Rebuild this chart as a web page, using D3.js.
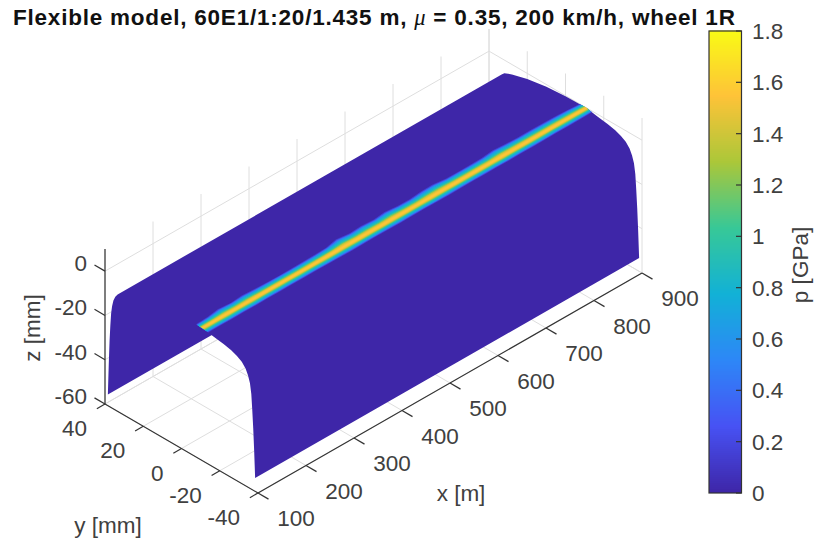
<!DOCTYPE html>
<html lang="en">
<head>
	<meta charset="UTF-8">
	<title>Flexible model contact pressure</title>
	<style>
		html, body { margin: 0; padding: 0; background: #fff; }
		svg { display: block; }
		text { font-family: "Liberation Sans", Arial, sans-serif; fill: #404040; }
	</style>
</head>
<body>
	<svg width="819" height="543"></svg>
	<script src="https://cdnjs.cloudflare.com/ajax/libs/d3/7.8.5/d3.min.js"></script>
	<script type="text/javascript">
		// tick values of the three axes and the colorbar
		var xTicks = [100, 200, 300, 400, 500, 600, 700, 800, 900];
		var yTicks = [40, 20, 0, -20, -40];
		var zTicks = [-60, -40, -20, 0];
		var pTicks = [0, 0.2, 0.4, 0.6, 0.8, 1, 1.2, 1.4, 1.6, 1.8];

		// rail head profile, y [mm] and z [mm]
		var profileY = [38.5, 38, 37.6, 37.2, 36.8, 36.3, 35.6, 34.6, 33.4, 32, 30, 28, 20, 10, 0, -11, -16.5, -22, -26, -29, -31.5, -33.5, -34.8, -35.8, -36.5, -37, -37.5, -38, -38.5];
		var profileZ = [-55, -40, -30, -23, -17.5, -14, -11, -8.8, -7.2, -6, -5.2, -4.5, -2.5, -1, -0.3, 0, -1, -1.7, -2.6, -3.6, -5, -7, -9.5, -12.5, -17, -24, -32, -42, -54];
		var railStart = 100;
		var railEnd = 900;

		// contact band along the rail: stations [m], edges relative to the centre line [mm]
		var contactY = -11;
		var stationX = [100, 125, 150, 175, 200, 225, 250, 275, 300, 325, 350, 375, 400, 425, 450, 475, 500, 525, 550, 575, 600, 625, 650, 675, 700, 725, 750, 775, 800, 825, 850, 875, 900];
		var upperEdge = [3.4, 3.7, 4.6, 4.1, 4.6, 4.2, 4.0, 3.9, 3.9, 4.0, 4.1, 4.4, 5.6, 4.8, 5.2, 4.7, 5.4, 4.7, 4.6, 5.2, 5.4, 4.6, 4.5, 4.5, 4.6, 5.3, 4.8, 4.6, 4.6, 4.5, 4.4, 4.1, 3.6];
		var lowerEdge = [3.0, 3.0, 3.1, 3.0, 3.1, 3.0, 3.0, 3.0, 3.0, 3.0, 3.1, 3.1, 3.2, 3.1, 3.1, 3.1, 3.2, 3.1, 3.1, 3.2, 3.2, 3.1, 3.1, 3.1, 3.1, 3.2, 3.1, 3.1, 3.1, 3.0, 3.0, 3.0, 2.9];

		// pressure [GPa] across the band, from its edge to its centre
		var bandFraction = [1, 0.9, 0.8, 0.7, 0.6, 0.5, 0.4, 0.3, 0.2, 0.1];
		var bandPressure = [0.15, 0.4, 0.6, 0.75, 0.85, 1.0, 1.2, 1.4, 1.5, 1.55];

		// parula colormap stops
		var colorStops = ["#3e26a8", "#4752f4", "#2d87f7", "#12b1d6", "#37c897", "#abc739", "#fec338", "#f9fb15"];

		var svg = d3.select("svg");

		// oblique projection of the 3D box, edges
		var originX = 105, originY = 404;
		var xToPx = d3.scaleLinear().domain([100, 900]).range([0, 384]);
		var xToPy = d3.scaleLinear().domain([100, 900]).range([0, -220]);
		var yToPx = d3.scaleLinear().domain([40, -40]).range([0, 153]);
		var yToPy = d3.scaleLinear().domain([40, -40]).range([0, 89]);
		var zToPy = d3.scaleLinear().domain([-60, 10]).range([0, -155]);

		function project(x, y, z) {
			return [originX + xToPx(x) + yToPx(y), originY + xToPy(x) + yToPy(y) + zToPy(z)];
		}

		var color = d3.scaleLinear()
			.domain(colorStops.map(function(d, i) { return 1.8 * i / (colorStops.length - 1); }))
			.range(colorStops);

		var line = d3.line();

		function drawSegments(parent, segments, stroke, width) {
			parent.selectAll(null).data(segments).enter().append("path")
				.attr("d", function(d) { return line(d); })
				.attr("fill", "none")
				.attr("stroke", stroke)
				.attr("stroke-width", width);
		}

		// GRID //
		var grid = svg.append("g");
		var gridLines = [];
		xTicks.forEach(function(x) {
			gridLines.push([project(x, 40, -60), project(x, -40, -60)]);
			gridLines.push([project(x, 40, -60), project(x, 40, 10)]);
		});
		yTicks.forEach(function(y) {
			gridLines.push([project(100, y, -60), project(900, y, -60)]);
			gridLines.push([project(900, y, -60), project(900, y, 10)]);
		});
		zTicks.forEach(function(z) {
			gridLines.push([project(100, 40, z), project(900, 40, z)]);
			gridLines.push([project(900, 40, z), project(900, -40, z)]);
		});
		drawSegments(grid, gridLines, "#dedede", 1);

		// RAIL SURFACE //
		// all the strips go into one path, so no seams show between them.
		// the sheet folds over itself on screen, so every strip gets the same winding
		var quads = d3.pairs(d3.zip(profileY, profileZ));
		svg.append("path")
			.attr("d", quads.map(function(d) {
				var corners = [
					project(railStart, d[0][0], d[0][1]),
					project(railEnd, d[0][0], d[0][1]),
					project(railEnd, d[1][0], d[1][1]),
					project(railStart, d[1][0], d[1][1])
				];
				if (d3.polygonArea(corners) < 0) corners.reverse();
				return line(corners) + "Z";
			}).join(""))
			.attr("fill", color(0));

		// the height of the surface at a given y, to lay the band on it
		var surfaceZ = d3.scaleLinear().domain(profileY.slice().reverse()).range(profileZ.slice().reverse());

		// CONTACT BAND //
		var defs = svg.append("defs");
		defs.append("filter").attr("id", "soft")
			.attr("x", "-5%").attr("y", "-5%").attr("width", "110%").attr("height", "110%")
			.append("feGaussianBlur").attr("stdDeviation", 0.5);

		var band = svg.append("g").attr("filter", "url(#soft)");
		band.selectAll("path").data(bandFraction).enter().append("path")
			.attr("d", function(f) {
				var top = stationX.map(function(x, i) {
					var y = contactY + upperEdge[i] * f;
					return project(x, y, surfaceZ(y));
				});
				var bottom = stationX.map(function(x, i) {
					var y = contactY - lowerEdge[i] * f;
					return project(x, y, surfaceZ(y));
				}).reverse();
				return line(top.concat(bottom)) + "Z";
			})
			.attr("fill", function(f, i) { return color(bandPressure[i]); });

		// AXES //
		var axes = svg.append("g");
		drawSegments(axes, [
			[project(100, -40, -60), project(900, -40, -60)],
			[project(100, 40, -60), project(100, -40, -60)],
			[project(100, 40, -60), project(100, 40, 10)]
		], "#333", 1.2);

		// tick marks point outwards along the other axes
		var tickLines = [];
		xTicks.forEach(function(x) { tickLines.push([project(x, -40, -60), project(x, -45.5, -60)]); });
		yTicks.forEach(function(y) { tickLines.push([project(100, y, -60), project(83, y, -60)]); });
		zTicks.forEach(function(z) { tickLines.push([project(100, 40, z), project(100, 45.5, z)]); });
		drawSegments(axes, tickLines, "#333", 1.2);

		var labels = svg.append("g").attr("font-size", 22.5);

		labels.selectAll(".xl").data(xTicks).enter().append("text")
			.attr("class", "xl")
			.attr("text-anchor", "middle")
			.attr("x", function(d) { return project(d, -40, -60)[0] + 38; })
			.attr("y", function(d) { return project(d, -40, -60)[1] + 33; })
			.text(function(d) { return d; });

		labels.selectAll(".yl").data(yTicks).enter().append("text")
			.attr("class", "yl")
			.attr("text-anchor", "end")
			.attr("x", function(d) { return project(100, d, -60)[0] - 18; })
			.attr("y", function(d) { return project(100, d, -60)[1] + 32; })
			.text(function(d) { return d; });

		labels.selectAll(".zl").data(zTicks).enter().append("text")
			.attr("class", "zl")
			.attr("text-anchor", "end")
			.attr("x", function(d) { return project(100, 40, d)[0] - 18; })
			.attr("y", function(d) { return project(100, 40, d)[1]; })
			.text(function(d) { return d; });

		labels.append("text").attr("x", 461).attr("y", 501).attr("text-anchor", "middle").text("x [m]");
		labels.append("text").attr("x", 108).attr("y", 533).attr("text-anchor", "middle").text("y [mm]");
		labels.append("text").attr("transform", "translate(40,328) rotate(-90)").attr("text-anchor", "middle").text("z [mm]");

		// COLORBAR //
		var barLeft = 709, barRight = 741.5;
		var pScale = d3.scaleLinear().domain([0, 1.8]).range([493, 31]);
		var bar = svg.append("g");
		var barLevels = d3.range(0, 1.8, 1.8 / 231);
		bar.selectAll("rect").data(barLevels).enter().append("rect")
			.attr("x", barLeft)
			.attr("width", barRight - barLeft)
			.attr("y", function(d) { return pScale(d) - 2.5; })
			.attr("height", 2.5)
			.attr("fill", function(d) { return color(d); });
		bar.append("rect")
			.attr("x", barLeft).attr("y", pScale(1.8))
			.attr("width", barRight - barLeft).attr("height", pScale(0) - pScale(1.8))
			.attr("fill", "none").attr("stroke", "#333").attr("stroke-width", 1.2);
		drawSegments(bar, pTicks.map(function(p) {
			return [[barRight - 5.5, pScale(p)], [barRight, pScale(p)]];
		}), "#333", 1.2);
		labels.selectAll(".pl").data(pTicks).enter().append("text")
			.attr("class", "pl")
			.attr("x", 752)
			.attr("y", function(d) { return pScale(d) + 8; })
			.text(function(d) { return d; });
		labels.append("text").attr("transform", "translate(808,265) rotate(-90)").attr("text-anchor", "middle").text("p [GPa]");

		// TITLE //
		var title = svg.append("text")
			.attr("x", 13).attr("y", 25)
			.attr("font-size", 22.5)
			.attr("font-weight", "bold")
			.attr("letter-spacing", 0.78)
			.style("fill", "#111");
		title.append("tspan").text("Flexible model, 60E1/1:20/1.435 m, ");
		title.append("tspan").attr("font-style", "italic").attr("font-weight", "normal").style("font-family", "'Liberation Serif', serif").text("\u03BC");
		title.append("tspan").text(" = 0.35, 200 km/h, wheel 1R");
	</script>
</body>
</html>
